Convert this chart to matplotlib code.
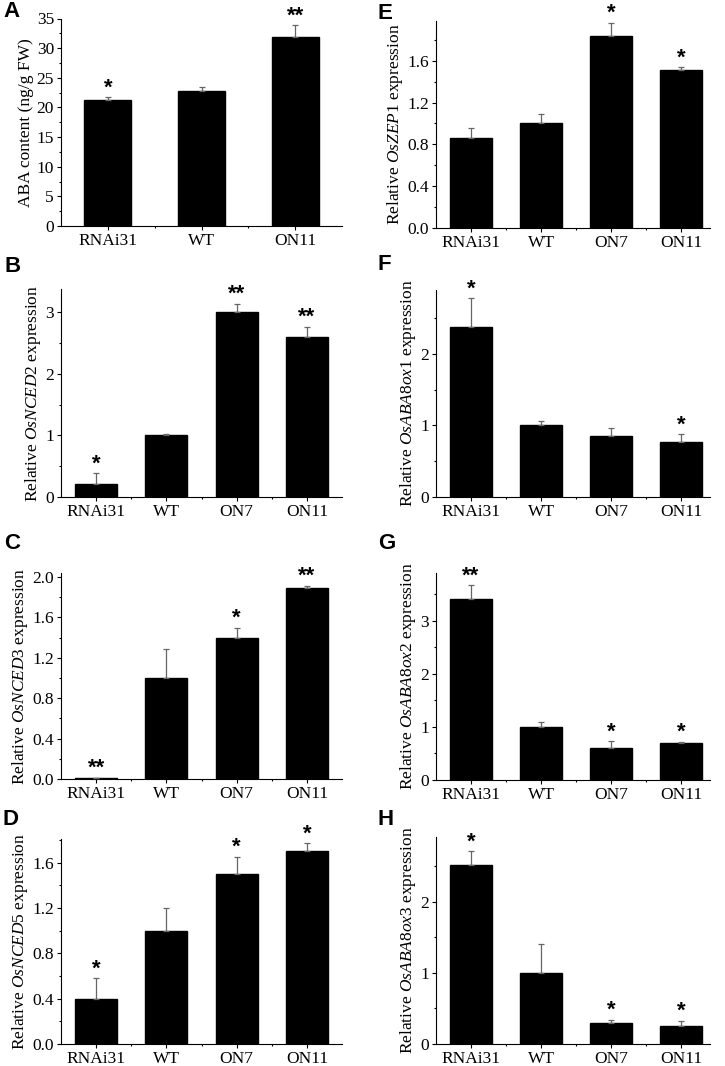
import matplotlib
matplotlib.use("Agg")
import matplotlib.pyplot as plt
from matplotlib.ticker import MultipleLocator, AutoMinorLocator, FormatStrFormatter

plt.rcParams['font.family'] = ['Liberation Serif', 'DejaVu Serif']
plt.rcParams['mathtext.fontset'] = 'custom'
plt.rcParams['mathtext.rm'] = 'Liberation Serif'
plt.rcParams['mathtext.it'] = 'Liberation Serif:italic'

# datos
lineas_3 = ["RNAi31", "WT", "ON11"]
lineas_4 = ["RNAi31", "WT", "ON7", "ON11"]

aba_media = [21.3, 22.7, 31.9]
aba_err = [0.4, 0.8, 2.0]
aba_sig = ["*", "", "**"]

nced2_media = [0.21, 1.0, 3.0, 2.6]
nced2_err = [0.18, 0.03, 0.14, 0.17]
nced2_sig = ["*", "", "**", "**"]

nced3_media = [0.013, 1.0, 1.40, 1.895]
nced3_err = [0.0, 0.29, 0.10, 0.02]
nced3_sig = ["**", "", "*", "**"]

nced5_media = [0.40, 1.0, 1.50, 1.70]
nced5_err = [0.18, 0.20, 0.155, 0.075]
nced5_sig = ["*", "", "*", "*"]

zep1_media = [0.86, 1.0, 1.84, 1.51]
zep1_err = [0.10, 0.095, 0.125, 0.03]
zep1_sig = ["", "", "*", "*"]

ox1_media = [2.37, 1.0, 0.85, 0.77]
ox1_err = [0.41, 0.065, 0.115, 0.105]
ox1_sig = ["*", "", "", "*"]

ox2_media = [3.41, 1.0, 0.60, 0.70]
ox2_err = [0.26, 0.09, 0.13, 0.025]
ox2_sig = ["**", "", "*", "*"]

ox3_media = [2.51, 1.0, 0.30, 0.25]
ox3_err = [0.20, 0.405, 0.04, 0.08]
ox3_sig = ["*", "", "*", "*"]

W, H = 725, 1066
fig = plt.figure(figsize=(W / 100, H / 100), dpi=100)

# (letra, etiqueta, lineas, media, err, sig, ymax, paso, formato, caja en px, ancho barra, xmax)
paneles = [
    ("A", "ABA content (ng/g FW)", lineas_3, aba_media, aba_err, aba_sig, 35, 5, "%d", (61, 342, 18.5, 226), 0.5, 3.5),
    ("B", r"Relative $\it{OsNCED2}$ expression", lineas_4, nced2_media, nced2_err, nced2_sig, 3.38, 1, "%d", (61, 342, 289, 497), 0.6, 4.5),
    ("C", r"Relative $\it{OsNCED3}$ expression", lineas_4, nced3_media, nced3_err, nced3_sig, 2.04, 0.4, "%.1f", (61, 342, 573, 779), 0.6, 4.5),
    ("D", r"Relative $\it{OsNCED5}$ expression", lineas_4, nced5_media, nced5_err, nced5_sig, 1.81, 0.4, "%.1f", (61, 342, 839, 1044), 0.6, 4.5),
    ("E", r"Relative $\it{OsZEP1}$ expression", lineas_4, zep1_media, zep1_err, zep1_sig, 1.98, 0.4, "%.1f", (436, 710, 21, 228), 0.6, 4.41),
    ("F", r"Relative $\it{OsABA8ox1}$ expression", lineas_4, ox1_media, ox1_err, ox1_sig, 2.89, 1, "%d", (436, 710, 290, 497), 0.6, 4.41),
    ("G", r"Relative $\it{OsABA8ox2}$ expression", lineas_4, ox2_media, ox2_err, ox2_sig, 3.90, 1, "%d", (436, 710, 573, 780), 0.6, 4.41),
    ("H", r"Relative $\it{OsABA8ox3}$ expression", lineas_4, ox3_media, ox3_err, ox3_sig, 2.91, 1, "%d", (436, 710, 837, 1044), 0.6, 4.41),
]

# esquina superior de cada letra (px)
letras_pos = {"A": (3, 1), "B": (4, 256), "C": (4, 533), "D": (3, 809),
              "E": (378, 3), "F": (378, 254), "G": (378, 533), "H": (378, 809)}

for letra, etiqueta, lineas, media, err, sig, ymax, paso, fmt, caja, ancho, xmax in paneles:
    x0, x1, ytop, ybot = caja
    ax = fig.add_axes([x0 / W, 1 - ybot / H, (x1 - x0) / W, (ybot - ytop) / H])
    xs = list(range(1, len(lineas) + 1))
    ax.bar(xs, media, width=ancho, color="black", edgecolor="black", zorder=2)
    ax.errorbar(xs, media, yerr=[[0] * len(err), err], fmt="none", ecolor="#666666",
                elinewidth=0.9, capsize=2.5, capthick=0.9, zorder=3)
    for x, m, e, s in zip(xs, media, err, sig):
        if s:
            ax.annotate(s, (x, m + e), xytext=(0, -1), textcoords="offset points",
                        ha="center", va="bottom", fontsize=16, fontweight="bold",
                        family=["Liberation Sans", "DejaVu Sans"])
    ax.set_xlim(0.5, xmax)
    ax.set_ylim(0, ymax)
    ax.set_xticks(xs)
    ax.set_xticklabels(lineas)
    ax.set_xticks([x + 0.5 for x in xs[:-1]], minor=True)
    ax.yaxis.set_major_locator(MultipleLocator(paso))
    ax.yaxis.set_minor_locator(AutoMinorLocator(2))
    ax.yaxis.set_major_formatter(FormatStrFormatter(fmt))
    for lado in ["top", "right"]:
        ax.spines[lado].set_visible(False)
    for lado in ["left", "bottom"]:
        ax.spines[lado].set_linewidth(0.8)
    ax.tick_params(which="major", direction="out", length=3, width=0.8, labelsize=12.5, pad=2)
    ax.tick_params(which="minor", direction="out", length=1.6, width=0.8)
    ax.set_ylabel(etiqueta, fontsize=12.5, labelpad=2)
    lx, ly = letras_pos[letra]
    fig.text(lx / W, 1 - ly / H, letra, fontsize=16, fontweight="bold",
             family=["Liberation Sans", "DejaVu Sans"], ha="left", va="top")

fig.savefig("out.png", dpi=100)
